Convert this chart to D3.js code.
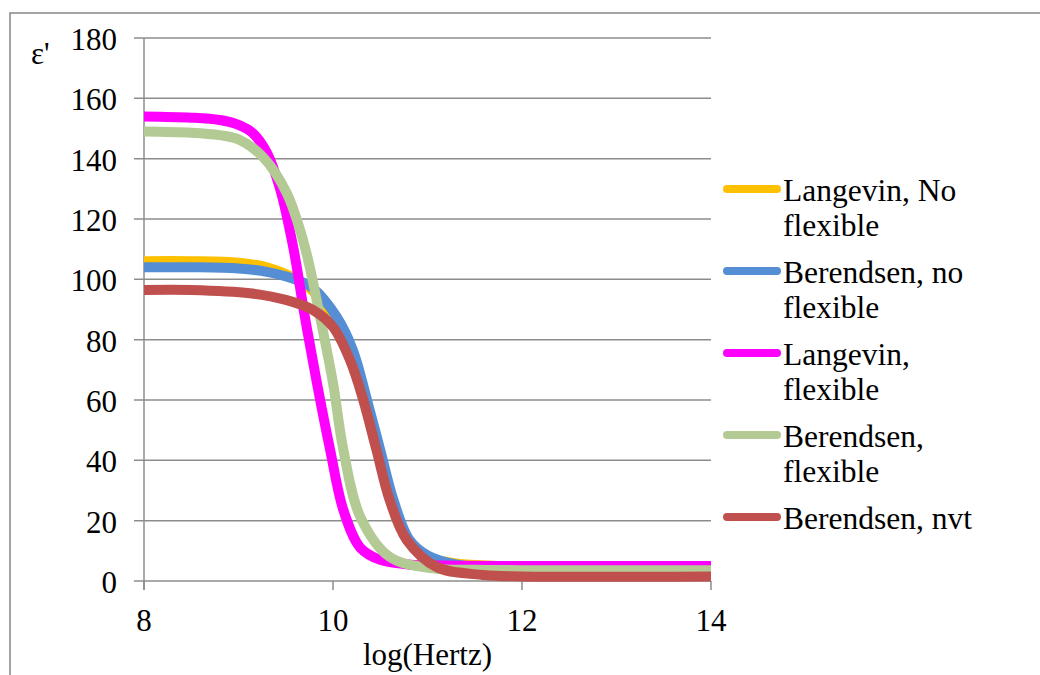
<!DOCTYPE html>
<html>
<head>
<meta charset="utf-8">
<script src="https://cdn.jsdelivr.net/npm/d3@7"></script>
<style>
  html, body { margin: 0; padding: 0; background: #fff; }
  #root { width: 1040px; height: 675px; overflow: hidden; }
  text { font-family: 'Liberation Serif', 'Times New Roman', serif; fill: #000; }
</style>
</head>
<body>
<div id="root"></div>
<script>
// tick labels
const xTicks = [8, 10, 12, 14];
const yTicks = [0, 20, 40, 60, 80, 100, 120, 140, 160, 180];

// series names and colours (legend order = draw order)
const seriesNames = [
  ['Langevin, No', 'flexible'],
  ['Berendsen, no', 'flexible'],
  ['Langevin,', 'flexible'],
  ['Berendsen,', 'flexible'],
  ['Berendsen, nvt'],
];
const seriesColors = ['#ffc000', '#558ed5', '#ff00ff', '#b3ca94', '#c0504d'];

// values: log(Hertz) and eps'
const langevinNoFlexX = [8, 8.5, 9.0, 9.3, 9.55, 9.79, 10.0, 10.2, 10.35, 10.48, 10.62, 10.8, 11.0, 11.3, 11.8, 12.5, 14];
const langevinNoFlexY = [106, 106, 105.5, 104, 101, 96, 86, 74, 58, 42, 26, 13, 8, 5.8, 5, 4.8, 4.8];

const berendsenNoFlexX = [8, 8.5, 9.0, 9.3, 9.55, 9.79, 10.04, 10.21, 10.36, 10.5, 10.64, 10.81, 11.0, 11.3, 11.8, 12.5, 14];
const berendsenNoFlexY = [104, 104, 103.6, 102.5, 100.5, 97, 87.5, 76.6, 60, 43.4, 26.8, 13.6, 8.5, 5.5, 4.3, 4, 4];

const langevinFlexX = [8, 8.5, 8.8, 9.0, 9.15, 9.3, 9.44, 9.58, 9.70, 9.83, 9.97, 10.11, 10.29, 10.5, 10.8, 11.2, 12, 14];
const langevinFlexY = [154, 153.6, 152.8, 151.2, 148.5, 142, 130, 110.5, 88, 65.6, 43.4, 23.5, 11, 7, 5.5, 5.1, 5, 5];

const berendsenFlexX = [8, 8.5, 8.8, 9.0, 9.26, 9.51, 9.70, 9.86, 10.0, 10.11, 10.29, 10.6, 11.06, 11.5, 12, 14];
const berendsenFlexY = [149, 148.6, 147.8, 146.4, 140.5, 128.6, 111, 88, 65.6, 43.4, 21.2, 8, 4.2, 3.7, 3.6, 3.6];

const berendsenNvtX = [8, 8.5, 9.12, 9.51, 9.79, 10.0, 10.18, 10.32, 10.46, 10.6, 10.78, 11.1, 11.59, 12, 14];
const berendsenNvtY = [96.5, 96.5, 95.4, 93.1, 89.8, 84.2, 73.2, 60, 43.4, 26.8, 13.6, 4.6, 2, 1.5, 1.5];

const seriesX = [langevinNoFlexX, berendsenNoFlexX, langevinFlexX, berendsenFlexX, berendsenNvtX];
const seriesY = [langevinNoFlexY, berendsenNoFlexY, langevinFlexY, berendsenFlexY, berendsenNvtY];

const series = seriesNames.map((name, i) => ({
  name,
  color: seriesColors[i],
  points: seriesX[i].map((x, j) => ({ x, y: seriesY[i][j] })),
}));

const svg = d3.select('#root').append('svg')
  .attr('width', 1040)
  .attr('height', 675);

// outer chart frame
svg.append('rect')
  .attr('x', 10).attr('y', 13)
  .attr('width', 1100).attr('height', 700)
  .attr('fill', 'none')
  .attr('stroke', '#868686')
  .attr('stroke-width', 1.5);

const x = d3.scaleLinear().domain([8, 14]).range([144, 711]);
const y = d3.scaleLinear().domain([0, 180]).range([581, 38]);

const gridColor = '#8c8c8c';
const fontSize = 31;

// horizontal gridlines + y tick labels
svg.append('g').selectAll('line')
  .data(yTicks)
  .enter()
  .append('line')
    .attr('x1', 134).attr('x2', 711)
    .attr('y1', (d) => y(d)).attr('y2', (d) => y(d))
    .attr('stroke', gridColor)
    .attr('stroke-width', 1.5);

svg.append('g').selectAll('text')
  .data(yTicks)
  .enter()
  .append('text')
    .attr('x', 117)
    .attr('y', (d) => y(d) + 12)
    .attr('text-anchor', 'end')
    .attr('font-size', fontSize)
    .text((d) => d);

// y axis line
svg.append('line')
  .attr('x1', x(8)).attr('x2', x(8))
  .attr('y1', y(180)).attr('y2', y(0) + 9)
  .attr('stroke', gridColor)
  .attr('stroke-width', 1.5);

// x ticks + labels
svg.append('g').selectAll('line')
  .data(xTicks)
  .enter()
  .append('line')
    .attr('x1', (d) => x(d)).attr('x2', (d) => x(d))
    .attr('y1', y(0)).attr('y2', y(0) + 9)
    .attr('stroke', gridColor)
    .attr('stroke-width', 1.5);

svg.append('g').selectAll('text')
  .data(xTicks)
  .enter()
  .append('text')
    .attr('x', (d) => x(d))
    .attr('y', 631)
    .attr('text-anchor', 'middle')
    .attr('font-size', fontSize)
    .text((d) => d);

// axis titles
svg.append('text')
  .attr('x', (x(8) + x(14)) / 2)
  .attr('y', 665)
  .attr('text-anchor', 'middle')
  .attr('font-size', fontSize)
  .text('log(Hertz)');

svg.append('text')
  .attr('x', 31)
  .attr('y', 64)
  .attr('font-size', fontSize)
  .text("ε'");

// curves
const line = d3.line()
  .x((d) => x(d.x))
  .y((d) => y(d.y))
  .curve(d3.curveCatmullRom.alpha(0.5));

svg.append('g').selectAll('path')
  .data(series)
  .enter()
  .append('path')
    .attr('d', (d) => line(d.points))
    .attr('fill', 'none')
    .attr('stroke', (d) => d.color)
    .attr('stroke-width', 10)
    .attr('stroke-linejoin', 'round');

// legend
const legend = svg.append('g').selectAll('.item')
  .data(series)
  .enter()
  .append('g')
    .attr('class', 'item')
    .attr('transform', (d, i) => 'translate(0,' + (189 + i * 82) + ')');

legend.append('line')
  .attr('x1', 727).attr('x2', 777)
  .attr('y1', 0).attr('y2', 0)
  .attr('stroke', (d) => d.color)
  .attr('stroke-width', 8)
  .attr('stroke-linecap', 'round');

legend.append('text')
  .attr('font-size', 31.5)
  .selectAll('tspan')
  .data((d) => d.name)
  .enter()
  .append('tspan')
    .attr('x', 783)
    .attr('y', (d, i) => 12 + i * 35)
    .text((d) => d);
</script>
</body>
</html>
